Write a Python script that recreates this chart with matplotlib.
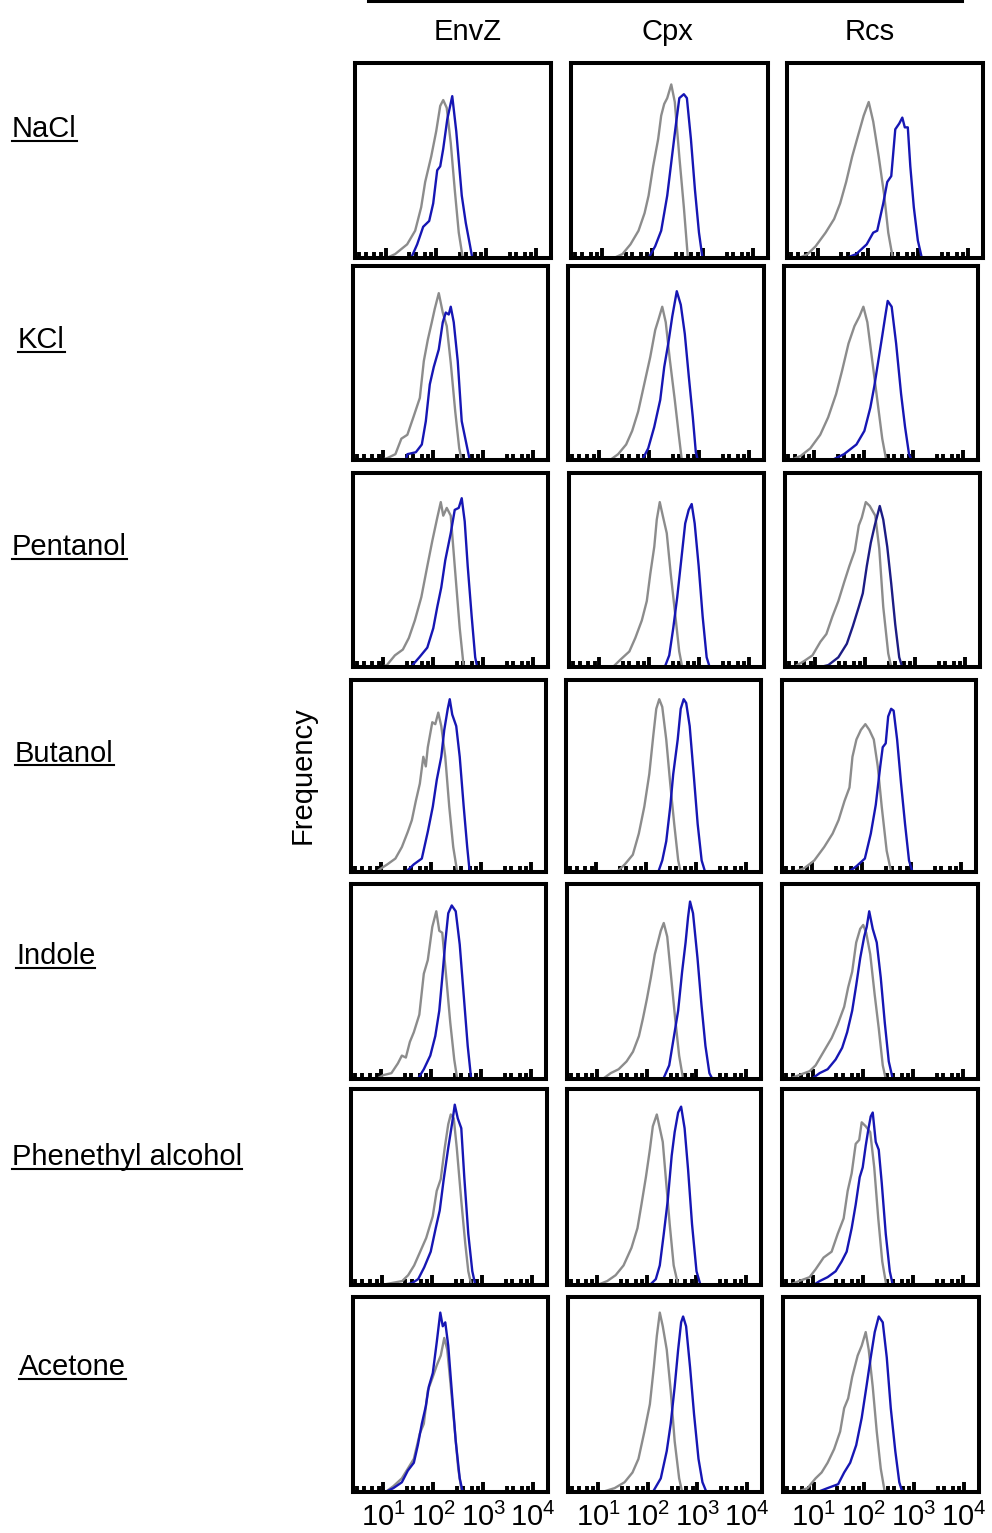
import numpy as np
import matplotlib
matplotlib.use("Agg")
import matplotlib.pyplot as plt
from matplotlib.lines import Line2D
from matplotlib.ticker import LogLocator, NullFormatter

plt.rcParams['font.family'] = ['Liberation Sans', 'DejaVu Sans']

W, H = 992, 1533

conditions = ["NaCl", "KCl", "Pentanol", "Butanol", "Indole", "Phenethyl alcohol", "Acetone"]
reporters = ["EnvZ", "Cpx", "Rcs"]

# histogram traces: x = log10 fluorescence, y = relative cell count
# ctl = untreated (grey), trt = treated (blue)
nacl_envz_ctl_x = [1.02, 1.19, 1.43, 1.59, 1.71, 1.79, 1.91, 2.01, 2.09, 2.15, 2.22, 2.30, 2.38, 2.46, 2.54]
nacl_envz_ctl_y = [0.0, 0.02, 0.07, 0.14, 0.26, 0.39, 0.52, 0.65, 0.78, 0.81, 0.77, 0.59, 0.35, 0.13, 0.0]
nacl_envz_trt_x = [1.51, 1.63, 1.75, 1.87, 1.95, 2.03, 2.09, 2.15, 2.23, 2.33, 2.41, 2.52, 2.60, 2.68, 2.73]
nacl_envz_trt_y = [0.0, 0.07, 0.16, 0.19, 0.28, 0.45, 0.47, 0.56, 0.71, 0.83, 0.65, 0.32, 0.18, 0.07, 0.0]

nacl_cpx_ctl_x = [1.24, 1.41, 1.57, 1.73, 1.85, 1.93, 2.02, 2.12, 2.18, 2.24, 2.30, 2.38, 2.45, 2.54, 2.63, 2.71]
nacl_cpx_ctl_y = [0.0, 0.02, 0.07, 0.14, 0.23, 0.32, 0.47, 0.61, 0.73, 0.79, 0.82, 0.89, 0.80, 0.52, 0.26, 0.0]
nacl_cpx_trt_x = [1.93, 2.06, 2.18, 2.30, 2.38, 2.46, 2.54, 2.63, 2.69, 2.77, 2.85, 2.93, 3.00]
nacl_cpx_trt_y = [0.0, 0.06, 0.14, 0.32, 0.49, 0.66, 0.82, 0.84, 0.82, 0.61, 0.35, 0.13, 0.0]

nacl_rcs_ctl_x = [0.63, 0.80, 0.96, 1.16, 1.33, 1.45, 1.57, 1.69, 1.81, 1.92, 2.02, 2.11, 2.22, 2.33, 2.41, 2.50]
nacl_rcs_ctl_y = [0.0, 0.02, 0.06, 0.13, 0.20, 0.28, 0.39, 0.52, 0.63, 0.73, 0.80, 0.70, 0.52, 0.32, 0.13, 0.0]
nacl_rcs_trt_x = [1.57, 1.77, 1.98, 2.11, 2.19, 2.31, 2.39, 2.47, 2.55, 2.63, 2.69, 2.74, 2.80, 2.85, 2.92, 3.00, 3.08]
nacl_rcs_trt_y = [0.0, 0.02, 0.07, 0.13, 0.14, 0.28, 0.39, 0.42, 0.66, 0.69, 0.72, 0.67, 0.67, 0.47, 0.26, 0.09, 0.0]

kcl_envz_ctl_x = [0.95, 1.08, 1.24, 1.36, 1.48, 1.60, 1.73, 1.81, 1.89, 1.97, 2.03, 2.11, 2.19, 2.27, 2.35, 2.44, 2.52, 2.57]
kcl_envz_ctl_y = [0.0, 0.01, 0.03, 0.11, 0.13, 0.22, 0.32, 0.51, 0.62, 0.71, 0.78, 0.86, 0.76, 0.69, 0.50, 0.25, 0.06, 0.0]
kcl_envz_trt_x = [1.45, 1.48, 1.65, 1.77, 1.85, 1.93, 2.01, 2.11, 2.19, 2.25, 2.31, 2.35, 2.41, 2.49, 2.57, 2.65, 2.73]
kcl_envz_trt_y = [0.0, 0.03, 0.04, 0.08, 0.20, 0.39, 0.48, 0.57, 0.71, 0.76, 0.75, 0.79, 0.71, 0.51, 0.20, 0.10, 0.0]

kcl_cpx_ctl_x = [1.23, 1.39, 1.55, 1.67, 1.79, 1.91, 2.03, 2.13, 2.19, 2.27, 2.34, 2.42, 2.52, 2.60, 2.66]
kcl_cpx_ctl_y = [0.0, 0.03, 0.08, 0.15, 0.25, 0.39, 0.53, 0.67, 0.72, 0.79, 0.71, 0.52, 0.31, 0.13, 0.0]
kcl_cpx_trt_x = [1.87, 1.99, 2.11, 2.23, 2.31, 2.39, 2.47, 2.56, 2.64, 2.72, 2.80, 2.88, 2.94, 2.98]
kcl_cpx_trt_y = [0.0, 0.06, 0.17, 0.31, 0.48, 0.60, 0.74, 0.87, 0.80, 0.65, 0.43, 0.22, 0.04, 0.0]

kcl_rcs_ctl_x = [0.52, 0.72, 0.92, 1.12, 1.28, 1.44, 1.56, 1.69, 1.81, 1.91, 1.99, 2.07, 2.17, 2.27, 2.37, 2.45]
kcl_rcs_ctl_y = [0.0, 0.02, 0.06, 0.13, 0.22, 0.34, 0.46, 0.60, 0.69, 0.74, 0.79, 0.71, 0.51, 0.31, 0.11, 0.0]
kcl_rcs_trt_x = [1.36, 1.60, 1.85, 2.01, 2.13, 2.21, 2.29, 2.37, 2.43, 2.48, 2.56, 2.65, 2.75, 2.83, 2.91, 2.96]
kcl_rcs_trt_y = [0.0, 0.03, 0.08, 0.15, 0.27, 0.38, 0.51, 0.64, 0.74, 0.82, 0.79, 0.60, 0.34, 0.17, 0.03, 0.0]

pentanol_envz_ctl_x = [0.95, 1.07, 1.23, 1.39, 1.51, 1.63, 1.76, 1.88, 1.98, 2.08, 2.15, 2.20, 2.27, 2.35, 2.43, 2.53, 2.61]
pentanol_envz_ctl_y = [0.0, 0.01, 0.06, 0.09, 0.15, 0.24, 0.36, 0.52, 0.65, 0.77, 0.85, 0.78, 0.82, 0.78, 0.52, 0.20, 0.0]
pentanol_envz_trt_x = [1.55, 1.72, 1.88, 2.00, 2.08, 2.16, 2.24, 2.35, 2.43, 2.51, 2.57, 2.63, 2.69, 2.77, 2.84, 2.88]
pentanol_envz_trt_y = [0.0, 0.05, 0.10, 0.20, 0.31, 0.41, 0.55, 0.69, 0.81, 0.82, 0.87, 0.75, 0.52, 0.26, 0.05, 0.0]

pentanol_cpx_ctl_x = [1.27, 1.43, 1.60, 1.72, 1.85, 1.95, 2.02, 2.10, 2.15, 2.21, 2.27, 2.35, 2.43, 2.52, 2.60, 2.66]
pentanol_cpx_ctl_y = [0.0, 0.04, 0.08, 0.15, 0.24, 0.34, 0.48, 0.62, 0.76, 0.85, 0.78, 0.69, 0.48, 0.27, 0.08, 0.0]
pentanol_cpx_trt_x = [2.31, 2.40, 2.48, 2.56, 2.64, 2.72, 2.79, 2.85, 2.91, 2.99, 3.07, 3.15, 3.21]
pentanol_cpx_trt_y = [0.0, 0.06, 0.20, 0.36, 0.55, 0.74, 0.81, 0.84, 0.74, 0.52, 0.26, 0.05, 0.0]

pentanol_rcs_ctl_x = [0.57, 0.77, 0.94, 1.10, 1.22, 1.34, 1.46, 1.58, 1.68, 1.79, 1.87, 1.93, 2.01, 2.09, 2.20, 2.28, 2.36, 2.46, 2.52]
pentanol_rcs_ctl_y = [0.0, 0.03, 0.06, 0.13, 0.17, 0.26, 0.34, 0.44, 0.52, 0.60, 0.73, 0.77, 0.85, 0.83, 0.78, 0.61, 0.31, 0.07, 0.0]
pentanol_rcs_trt_x = [1.10, 1.26, 1.46, 1.63, 1.75, 1.87, 1.95, 2.03, 2.11, 2.19, 2.29, 2.36, 2.44, 2.52, 2.60, 2.68, 2.74]
pentanol_rcs_trt_y = [0.0, 0.01, 0.05, 0.12, 0.21, 0.31, 0.38, 0.52, 0.64, 0.73, 0.83, 0.76, 0.62, 0.43, 0.22, 0.05, 0.0]

butanol_envz_ctl_x = [0.90, 1.00, 1.12, 1.28, 1.41, 1.53, 1.61, 1.69, 1.77, 1.84, 1.89, 1.93, 2.02, 2.08, 2.14, 2.20, 2.28, 2.36, 2.44, 2.52]
butanol_envz_ctl_y = [0.0, 0.02, 0.04, 0.07, 0.13, 0.21, 0.27, 0.37, 0.46, 0.60, 0.55, 0.65, 0.78, 0.77, 0.83, 0.76, 0.60, 0.34, 0.13, 0.0]
butanol_envz_trt_x = [1.49, 1.65, 1.81, 1.93, 2.03, 2.11, 2.20, 2.26, 2.33, 2.37, 2.42, 2.50, 2.57, 2.65, 2.72, 2.77]
butanol_envz_trt_y = [0.0, 0.04, 0.07, 0.21, 0.34, 0.48, 0.60, 0.74, 0.85, 0.90, 0.82, 0.76, 0.60, 0.34, 0.13, 0.0]

butanol_cpx_ctl_x = [1.41, 1.57, 1.73, 1.85, 1.96, 2.06, 2.14, 2.20, 2.26, 2.32, 2.40, 2.48, 2.56, 2.64, 2.69]
butanol_cpx_ctl_y = [0.0, 0.04, 0.09, 0.20, 0.34, 0.51, 0.71, 0.85, 0.90, 0.86, 0.69, 0.46, 0.25, 0.06, 0.0]
butanol_cpx_trt_x = [2.24, 2.32, 2.40, 2.48, 2.54, 2.63, 2.69, 2.75, 2.80, 2.87, 2.95, 3.03, 3.11, 3.18]
butanol_cpx_trt_y = [0.0, 0.06, 0.16, 0.34, 0.51, 0.69, 0.85, 0.90, 0.88, 0.76, 0.51, 0.25, 0.06, 0.0]

butanol_rcs_ctl_x = [0.63, 0.84, 1.04, 1.24, 1.41, 1.53, 1.65, 1.75, 1.81, 1.89, 1.98, 2.07, 2.15, 2.24, 2.32, 2.40, 2.50, 2.59]
butanol_rcs_ctl_y = [0.0, 0.02, 0.06, 0.13, 0.20, 0.27, 0.37, 0.44, 0.60, 0.69, 0.74, 0.77, 0.74, 0.69, 0.55, 0.34, 0.11, 0.0]
butanol_rcs_trt_x = [1.73, 1.89, 2.06, 2.18, 2.28, 2.37, 2.42, 2.48, 2.53, 2.59, 2.64, 2.71, 2.79, 2.87, 2.95, 3.02]
butanol_rcs_trt_y = [0.0, 0.03, 0.07, 0.20, 0.35, 0.55, 0.65, 0.67, 0.81, 0.85, 0.84, 0.69, 0.46, 0.25, 0.06, 0.0]

indole_envz_ctl_x = [0.90, 1.04, 1.20, 1.33, 1.41, 1.49, 1.57, 1.65, 1.76, 1.85, 1.93, 2.02, 2.10, 2.16, 2.22, 2.30, 2.38, 2.46, 2.52]
indole_envz_ctl_y = [0.0, 0.02, 0.03, 0.08, 0.12, 0.11, 0.19, 0.24, 0.33, 0.54, 0.61, 0.78, 0.86, 0.76, 0.75, 0.52, 0.29, 0.10, 0.0]
indole_envz_trt_x = [1.73, 1.85, 1.98, 2.08, 2.16, 2.22, 2.28, 2.34, 2.41, 2.49, 2.57, 2.65, 2.73, 2.80]
indole_envz_trt_y = [0.0, 0.05, 0.12, 0.22, 0.35, 0.52, 0.70, 0.85, 0.89, 0.86, 0.69, 0.43, 0.17, 0.0]

indole_cpx_ctl_x = [1.11, 1.27, 1.43, 1.59, 1.72, 1.84, 1.92, 2.00, 2.08, 2.16, 2.23, 2.28, 2.34, 2.41, 2.49, 2.57, 2.65, 2.73]
indole_cpx_ctl_y = [0.0, 0.03, 0.05, 0.09, 0.14, 0.22, 0.31, 0.41, 0.52, 0.64, 0.71, 0.76, 0.80, 0.73, 0.52, 0.31, 0.12, 0.0]
indole_cpx_trt_x = [2.33, 2.45, 2.54, 2.63, 2.71, 2.78, 2.83, 2.87, 2.93, 3.02, 3.10, 3.18, 3.26, 3.32]
indole_cpx_trt_y = [0.0, 0.07, 0.21, 0.35, 0.55, 0.70, 0.83, 0.91, 0.85, 0.62, 0.38, 0.17, 0.03, 0.0]

indole_rcs_ctl_x = [0.53, 0.73, 0.94, 1.06, 1.22, 1.38, 1.50, 1.63, 1.71, 1.79, 1.87, 1.95, 2.01, 2.07, 2.15, 2.24, 2.32, 2.40, 2.46]
indole_rcs_ctl_y = [0.0, 0.02, 0.04, 0.07, 0.14, 0.21, 0.28, 0.37, 0.47, 0.55, 0.70, 0.77, 0.79, 0.75, 0.64, 0.43, 0.26, 0.07, 0.0]
indole_rcs_trt_x = [0.98, 1.14, 1.30, 1.46, 1.59, 1.69, 1.79, 1.87, 1.95, 2.03, 2.08, 2.13, 2.20, 2.28, 2.36, 2.44, 2.52, 2.60]
indole_rcs_trt_y = [0.0, 0.03, 0.05, 0.10, 0.16, 0.24, 0.35, 0.48, 0.62, 0.73, 0.78, 0.86, 0.77, 0.70, 0.52, 0.29, 0.09, 0.0]

phenethyl_envz_ctl_x = [1.00, 1.20, 1.41, 1.53, 1.65, 1.77, 1.89, 2.02, 2.10, 2.18, 2.26, 2.33, 2.38, 2.44, 2.50, 2.59, 2.67, 2.73, 2.79]
phenethyl_envz_ctl_y = [0.0, 0.01, 0.02, 0.05, 0.10, 0.17, 0.24, 0.35, 0.48, 0.54, 0.70, 0.82, 0.87, 0.85, 0.70, 0.43, 0.21, 0.07, 0.0]
phenethyl_envz_trt_x = [1.45, 1.61, 1.73, 1.85, 1.98, 2.08, 2.16, 2.24, 2.33, 2.41, 2.46, 2.52, 2.59, 2.65, 2.73, 2.81, 2.87]
phenethyl_envz_trt_y = [0.0, 0.01, 0.03, 0.09, 0.17, 0.29, 0.38, 0.54, 0.70, 0.83, 0.92, 0.85, 0.80, 0.55, 0.26, 0.07, 0.0]

phenethyl_cpx_ctl_x = [1.00, 1.20, 1.37, 1.53, 1.69, 1.81, 1.89, 1.98, 2.06, 2.12, 2.20, 2.26, 2.32, 2.38, 2.46, 2.54, 2.63]
phenethyl_cpx_ctl_y = [0.0, 0.02, 0.05, 0.10, 0.19, 0.29, 0.41, 0.55, 0.69, 0.81, 0.87, 0.80, 0.73, 0.55, 0.31, 0.10, 0.0]
phenethyl_cpx_trt_x = [2.06, 2.18, 2.26, 2.34, 2.42, 2.50, 2.56, 2.63, 2.69, 2.76, 2.83, 2.91, 3.00, 3.08]
phenethyl_cpx_trt_y = [0.0, 0.03, 0.10, 0.26, 0.43, 0.66, 0.78, 0.88, 0.91, 0.80, 0.59, 0.31, 0.07, 0.0]

phenethyl_rcs_ctl_x = [0.53, 0.73, 0.94, 1.06, 1.22, 1.38, 1.50, 1.62, 1.70, 1.78, 1.86, 1.93, 1.98, 2.06, 2.15, 2.23, 2.31, 2.39, 2.47]
phenethyl_rcs_ctl_y = [0.0, 0.02, 0.04, 0.08, 0.14, 0.17, 0.26, 0.34, 0.48, 0.57, 0.72, 0.74, 0.83, 0.81, 0.78, 0.60, 0.34, 0.12, 0.0]
phenethyl_rcs_trt_x = [1.02, 1.14, 1.30, 1.46, 1.58, 1.68, 1.78, 1.86, 1.94, 2.00, 2.06, 2.11, 2.16, 2.20, 2.26, 2.32, 2.38, 2.46, 2.54, 2.60]
phenethyl_rcs_trt_y = [0.0, 0.02, 0.04, 0.07, 0.12, 0.17, 0.29, 0.41, 0.55, 0.60, 0.71, 0.79, 0.86, 0.88, 0.73, 0.69, 0.52, 0.26, 0.07, 0.0]

acetone_envz_ctl_x = [1.04, 1.20, 1.37, 1.49, 1.61, 1.73, 1.81, 1.89, 1.99, 2.07, 2.15, 2.22, 2.28, 2.34, 2.42, 2.50, 2.57]
acetone_envz_ctl_y = [0.0, 0.03, 0.07, 0.12, 0.17, 0.30, 0.35, 0.52, 0.59, 0.65, 0.70, 0.79, 0.73, 0.57, 0.35, 0.12, 0.0]
acetone_envz_trt_x = [1.04, 1.20, 1.37, 1.49, 1.61, 1.69, 1.77, 1.85, 1.91, 1.99, 2.07, 2.14, 2.19, 2.24, 2.30, 2.37, 2.45, 2.53, 2.59]
acetone_envz_trt_y = [0.0, 0.02, 0.05, 0.11, 0.15, 0.24, 0.35, 0.44, 0.54, 0.61, 0.77, 0.92, 0.85, 0.87, 0.75, 0.52, 0.26, 0.07, 0.0]

acetone_cpx_ctl_x = [1.08, 1.33, 1.53, 1.69, 1.81, 1.93, 2.04, 2.12, 2.18, 2.24, 2.30, 2.38, 2.46, 2.54, 2.63, 2.69]
acetone_cpx_ctl_y = [0.0, 0.02, 0.05, 0.10, 0.17, 0.31, 0.45, 0.64, 0.80, 0.92, 0.85, 0.73, 0.52, 0.26, 0.07, 0.0]
acetone_cpx_trt_x = [2.10, 2.26, 2.38, 2.46, 2.54, 2.61, 2.67, 2.71, 2.77, 2.85, 2.93, 3.02, 3.10, 3.18]
acetone_cpx_trt_y = [0.0, 0.07, 0.21, 0.35, 0.54, 0.73, 0.87, 0.90, 0.85, 0.64, 0.40, 0.17, 0.05, 0.0]

acetone_rcs_ctl_x = [0.67, 0.88, 1.04, 1.16, 1.28, 1.41, 1.53, 1.61, 1.69, 1.77, 1.88, 1.96, 2.04, 2.10, 2.18, 2.26, 2.34, 2.42]
acetone_rcs_ctl_y = [0.0, 0.02, 0.07, 0.10, 0.15, 0.22, 0.31, 0.43, 0.48, 0.59, 0.70, 0.75, 0.82, 0.73, 0.54, 0.31, 0.12, 0.0]
acetone_rcs_trt_x = [1.08, 1.28, 1.49, 1.61, 1.73, 1.85, 1.96, 2.06, 2.14, 2.22, 2.30, 2.38, 2.46, 2.54, 2.63, 2.71, 2.77]
acetone_rcs_trt_y = [0.0, 0.02, 0.04, 0.10, 0.15, 0.24, 0.38, 0.55, 0.69, 0.82, 0.90, 0.87, 0.69, 0.43, 0.21, 0.05, 0.0]

traces = {
    (0, 0): (nacl_envz_ctl_x, nacl_envz_ctl_y, nacl_envz_trt_x, nacl_envz_trt_y),
    (0, 1): (nacl_cpx_ctl_x, nacl_cpx_ctl_y, nacl_cpx_trt_x, nacl_cpx_trt_y),
    (0, 2): (nacl_rcs_ctl_x, nacl_rcs_ctl_y, nacl_rcs_trt_x, nacl_rcs_trt_y),
    (1, 0): (kcl_envz_ctl_x, kcl_envz_ctl_y, kcl_envz_trt_x, kcl_envz_trt_y),
    (1, 1): (kcl_cpx_ctl_x, kcl_cpx_ctl_y, kcl_cpx_trt_x, kcl_cpx_trt_y),
    (1, 2): (kcl_rcs_ctl_x, kcl_rcs_ctl_y, kcl_rcs_trt_x, kcl_rcs_trt_y),
    (2, 0): (pentanol_envz_ctl_x, pentanol_envz_ctl_y, pentanol_envz_trt_x, pentanol_envz_trt_y),
    (2, 1): (pentanol_cpx_ctl_x, pentanol_cpx_ctl_y, pentanol_cpx_trt_x, pentanol_cpx_trt_y),
    (2, 2): (pentanol_rcs_ctl_x, pentanol_rcs_ctl_y, pentanol_rcs_trt_x, pentanol_rcs_trt_y),
    (3, 0): (butanol_envz_ctl_x, butanol_envz_ctl_y, butanol_envz_trt_x, butanol_envz_trt_y),
    (3, 1): (butanol_cpx_ctl_x, butanol_cpx_ctl_y, butanol_cpx_trt_x, butanol_cpx_trt_y),
    (3, 2): (butanol_rcs_ctl_x, butanol_rcs_ctl_y, butanol_rcs_trt_x, butanol_rcs_trt_y),
    (4, 0): (indole_envz_ctl_x, indole_envz_ctl_y, indole_envz_trt_x, indole_envz_trt_y),
    (4, 1): (indole_cpx_ctl_x, indole_cpx_ctl_y, indole_cpx_trt_x, indole_cpx_trt_y),
    (4, 2): (indole_rcs_ctl_x, indole_rcs_ctl_y, indole_rcs_trt_x, indole_rcs_trt_y),
    (5, 0): (phenethyl_envz_ctl_x, phenethyl_envz_ctl_y, phenethyl_envz_trt_x, phenethyl_envz_trt_y),
    (5, 1): (phenethyl_cpx_ctl_x, phenethyl_cpx_ctl_y, phenethyl_cpx_trt_x, phenethyl_cpx_trt_y),
    (5, 2): (phenethyl_rcs_ctl_x, phenethyl_rcs_ctl_y, phenethyl_rcs_trt_x, phenethyl_rcs_trt_y),
    (6, 0): (acetone_envz_ctl_x, acetone_envz_ctl_y, acetone_envz_trt_x, acetone_envz_trt_y),
    (6, 1): (acetone_cpx_ctl_x, acetone_cpx_ctl_y, acetone_cpx_trt_x, acetone_cpx_trt_y),
    (6, 2): (acetone_rcs_ctl_x, acetone_rcs_ctl_y, acetone_rcs_trt_x, acetone_rcs_trt_y),
}

# panel boxes in pixels (top, bottom) per row and (left, right) per row/column
row_y = [(61, 260), (264, 462), (471, 669), (678, 874), (882, 1081), (1087, 1287), (1295, 1494)]
col_x = [
    [(353, 553), (569, 770), (785, 985)],
    [(351, 550), (566, 766), (782, 980)],
    [(351, 550), (567, 766), (783, 982)],
    [(349, 548), (564, 763), (780, 978)],
    [(349, 548), (565, 763), (780, 980)],
    [(349, 549), (565, 763), (780, 980)],
    [(351, 550), (566, 764), (781, 981)],
]
label_pos = [(12, 137), (18, 348), (12, 555), (15, 762), (16, 964), (12, 1165), (19, 1375)]
header_x = [468, 667, 870]

GREY = '#8c8c8c'
BLUE = '#1616b4'
NAVY = '#1c1c84'
FS = 21

fig = plt.figure(figsize=(W / 100, H / 100), dpi=100)

for r in range(len(conditions)):
    top, bot = row_y[r]
    for c in range(len(reporters)):
        left, right = col_x[r][c]
        ax = fig.add_axes([(left + 2) / W, 1 - (bot - 2) / H,
                           (right - left - 4) / W, (bot - top - 4) / H])
        cx, cy, tx, ty = traces[(r, c)]
        ax.plot(10 ** np.array(cx), cy, color=GREY, lw=1.7)
        blue = NAVY if (r, c) == (2, 2) else BLUE
        ax.plot(10 ** np.array(tx), ty, color=blue, lw=1.7)
        ax.set_xscale('log')
        ax.set_xlim(10 ** 0.39, 10 ** 4.3)
        ax.set_ylim(0, 1)
        ax.xaxis.set_major_locator(LogLocator(base=10, numticks=10))
        ax.xaxis.set_minor_locator(LogLocator(base=10, subs=(3, 4, 6, 8), numticks=10))
        ax.xaxis.set_minor_formatter(NullFormatter())
        ax.set_yticks([])
        ax.tick_params(axis='x', which='major', direction='in', length=7, width=2.8,
                       labelsize=FS, pad=8, labelbottom=(r == len(conditions) - 1))
        ax.tick_params(axis='x', which='minor', direction='in', length=4.2, width=2.8)
        for s in ax.spines.values():
            s.set_linewidth(2.9)
            s.set_color('black')

# column headers and bracket line
fig.add_artist(Line2D([368 / W, 962 / W], [1 - 1.2 / H] * 2, color='black', lw=2.2))
for name, x in zip(reporters, header_x):
    fig.text(x / W, 1 - 40 / H, name, ha='center', va='baseline', fontsize=FS)

fig.text(303 / W, 1 - 775 / H, "Frequency", rotation=90, ha='center', va='center', fontsize=FS)

row_texts = []
for name, (x, yb) in zip(conditions, label_pos):
    t = fig.text(x / W, 1 - yb / H, name, ha='left', va='baseline', fontsize=FS)
    row_texts.append((t, yb))

# underline the row labels
fig.canvas.draw()
renderer = fig.canvas.get_renderer()
for t, yb in row_texts:
    bb = t.get_window_extent(renderer)
    yl = 1 - (yb + 3.5) / H
    fig.add_artist(Line2D([bb.x0 / W, bb.x1 / W], [yl, yl], color='black', lw=1.5))

fig.savefig("out.png", dpi=100)
